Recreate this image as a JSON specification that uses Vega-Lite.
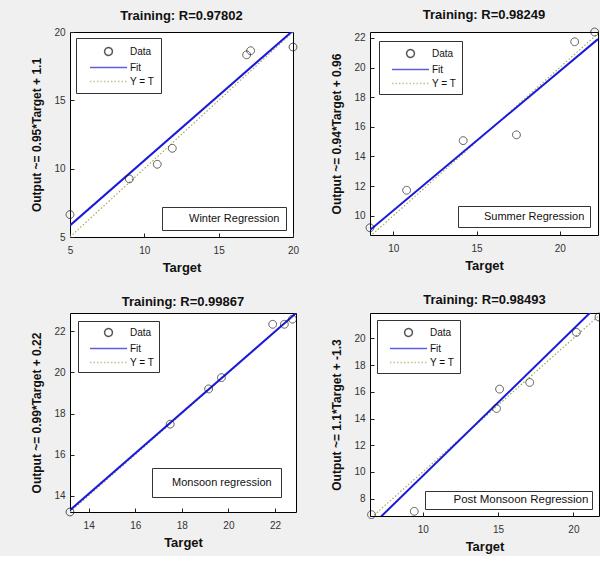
{
  "$schema": "https://vega.github.io/schema/vega-lite/v6.json",
  "background": "#f0f0f0",
  "padding": {"left": 30, "top": 8, "right": 2, "bottom": 2},
  "columns": 2,
  "spacing": {"row": 18, "column": 30},
  "config": {
    "font": "Liberation Sans",
    "view": {"fill": "white", "stroke": "black", "strokeWidth": 1},
    "axis": {"labelFont": "Liberation Sans", "labelFontSize": 10, "labelColor": "#333333", "titleFont": "Liberation Sans", "titleFontWeight": "bold", "titleColor": "#111111", "grid": false, "domain": false, "tickColor": "#222222", "tickSize": -4, "tickCount": 30, "format": "d", "labelOverlap": false, "labelFlush": false},
    "axisX": {"titleFontSize": 13, "titlePadding": 6, "labelPadding": 12},
    "axisY": {"titleFontSize": 12, "titlePadding": 10, "labelPadding": 9},
    "title": {"font": "Liberation Sans", "fontSize": 13, "fontWeight": "bold", "color": "#111111", "offset": 4},
    "legend": {"labelFont": "Liberation Sans", "labelColor": "#111111"}
  },
  "resolve": {
    "scale": {"x": "independent", "y": "independent", "color": "independent", "shape": "independent", "strokeDash": "independent", "opacity": "independent"},
    "legend": {"color": "independent", "shape": "independent", "strokeDash": "independent", "opacity": "independent"}
  },
  "concat": [
    {
      "title": "Training: R=0.97802",
      "width": 223, "height": 205,
      "layer": [
        {"data": {"values": [{"t": 5, "o": 5}, {"t": 20, "o": 20}]},
         "mark": {"type": "line", "color": "#a8a860", "strokeDash": [1.5, 2], "strokeWidth": 1.2, "clip": true},
         "encoding": {"x": {"field": "t", "type": "quantitative", "scale": {"domain": [5, 20], "nice": false, "zero": false}, "axis": {"values": [5, 10, 15, 20], "title": "Target"}},
                      "y": {"field": "o", "type": "quantitative", "scale": {"domain": [5, 20], "nice": false, "zero": false}, "axis": {"values": [5, 10, 15, 20], "title": "Output ~= 0.95*Target + 1.1"}}}},
        {"data": {"values": [{"t": 5, "o": 5.85, "note": "Winter Regression"}, {"t": 20, "o": 20.1, "note": "Winter Regression"}]},
         "mark": {"type": "line", "color": "#1a1adb", "strokeWidth": 2, "clip": true},
         "encoding": {"x": {"field": "t", "type": "quantitative"}, "y": {"field": "o", "type": "quantitative"},
                      "opacity": {"field": "note", "type": "nominal", "scale": {"range": [1]}, "legend": {"title": null, "orient": "bottom-right", "offset": 7, "strokeColor": "#333333", "fillColor": "white", "padding": 6, "symbolSize": 0, "symbolStrokeWidth": 0, "labelFontSize": 11, "labelOffset": 10}}}},
        {"data": {"values": [{"t": 5.0, "o": 6.64, "series": "Data"}, {"t": 8.99, "o": 9.25, "series": "Data"}, {"t": 10.87, "o": 10.32, "series": "Data"}, {"t": 11.88, "o": 11.49, "series": "Data"}, {"t": 16.88, "o": 18.33, "series": "Data"}, {"t": 17.15, "o": 18.63, "series": "Data"}, {"t": 20.0, "o": 18.9, "series": "Data"}]},
         "mark": {"type": "point", "filled": false, "size": 169, "strokeWidth": 1, "clip": false},
         "encoding": {"x": {"field": "t", "type": "quantitative"}, "y": {"field": "o", "type": "quantitative"},
                      "shape": {"field": "series", "type": "nominal", "scale": {"domain": ["Data", "Fit", "Y = T"], "range": ["M-0.6,0A0.6,0.6,0,1,1,0.6,0A0.6,0.6,0,1,1,-0.6,0Z", "M-2.85,0L2.85,0", "M-2.85,0L2.85,0"]}, "legend": {"title": null, "orient": "top-left", "offset": 6, "strokeColor": "#333333", "fillColor": "white", "padding": 6, "symbolSize": 169, "symbolOffset": 19, "labelFontSize": 10, "rowPadding": 1, "labelOffset": 14}},
                      "color": {"field": "series", "type": "nominal", "scale": {"domain": ["Data", "Fit", "Y = T"], "range": ["#111111", "#1a1adb", "#a8a860"]}, "legend": {"title": null, "orient": "top-left", "offset": 6, "strokeColor": "#333333", "fillColor": "white", "padding": 6, "symbolSize": 169, "symbolOffset": 19, "labelFontSize": 10, "rowPadding": 1, "labelOffset": 14}},
                      "strokeDash": {"field": "series", "type": "nominal", "scale": {"domain": ["Data", "Fit", "Y = T"], "range": [[1, 0], [1, 0], [1.5, 2]]}, "legend": {"title": null, "orient": "top-left", "offset": 6, "strokeColor": "#333333", "fillColor": "white", "padding": 6, "symbolSize": 169, "symbolOffset": 19, "labelFontSize": 10, "rowPadding": 1, "labelOffset": 14}}}}
      ]
    },
    {
      "title": "Training: R=0.98249",
      "width": 228, "height": 203,
      "layer": [
        {"data": {"values": [{"t": 8.6, "o": 8.6}, {"t": 22.3, "o": 22.3}]},
         "mark": {"type": "line", "color": "#a8a860", "strokeDash": [1.5, 2], "strokeWidth": 1.2, "clip": true},
         "encoding": {"x": {"field": "t", "type": "quantitative", "scale": {"domain": [8.6, 22.3], "nice": false, "zero": false}, "axis": {"values": [10, 15, 20], "title": "Target"}},
                      "y": {"field": "o", "type": "quantitative", "scale": {"domain": [8.7, 22.4], "nice": false, "zero": false}, "axis": {"values": [10, 12, 14, 16, 18, 20, 22], "title": "Output ~= 0.94*Target + 0.96"}}}},
        {"data": {"values": [{"t": 8.6, "o": 9.04, "note": "Summer Regression"}, {"t": 22.3, "o": 21.92, "note": "Summer Regression"}]},
         "mark": {"type": "line", "color": "#1a1adb", "strokeWidth": 2, "clip": true},
         "encoding": {"x": {"field": "t", "type": "quantitative"}, "y": {"field": "o", "type": "quantitative"},
                      "opacity": {"field": "note", "type": "nominal", "scale": {"range": [1]}, "legend": {"title": null, "orient": "bottom-right", "offset": 8, "strokeColor": "#333333", "fillColor": "white", "padding": 5, "symbolSize": 0, "symbolStrokeWidth": 0, "labelFontSize": 11, "labelOffset": 10}}}},
        {"data": {"values": [{"t": 8.6, "o": 9.19, "series": "Data"}, {"t": 10.8, "o": 11.72, "series": "Data"}, {"t": 14.2, "o": 15.07, "series": "Data"}, {"t": 17.4, "o": 15.46, "series": "Data"}, {"t": 20.9, "o": 21.74, "series": "Data"}, {"t": 22.1, "o": 22.4, "series": "Data"}]},
         "mark": {"type": "point", "filled": false, "size": 169, "strokeWidth": 1, "clip": false},
         "encoding": {"x": {"field": "t", "type": "quantitative"}, "y": {"field": "o", "type": "quantitative"},
                      "shape": {"field": "series", "type": "nominal", "scale": {"domain": ["Data", "Fit", "Y = T"], "range": ["M-0.6,0A0.6,0.6,0,1,1,0.6,0A0.6,0.6,0,1,1,-0.6,0Z", "M-2.85,0L2.85,0", "M-2.85,0L2.85,0"]}, "legend": {"title": null, "orient": "top-left", "offset": 9, "strokeColor": "#333333", "fillColor": "white", "padding": 5, "symbolSize": 169, "symbolOffset": 19, "labelFontSize": 10, "rowPadding": 1, "labelOffset": 14}},
                      "color": {"field": "series", "type": "nominal", "scale": {"domain": ["Data", "Fit", "Y = T"], "range": ["#111111", "#1a1adb", "#a8a860"]}, "legend": {"title": null, "orient": "top-left", "offset": 9, "strokeColor": "#333333", "fillColor": "white", "padding": 5, "symbolSize": 169, "symbolOffset": 19, "labelFontSize": 10, "rowPadding": 1, "labelOffset": 14}},
                      "strokeDash": {"field": "series", "type": "nominal", "scale": {"domain": ["Data", "Fit", "Y = T"], "range": [[1, 0], [1, 0], [1.5, 2]]}, "legend": {"title": null, "orient": "top-left", "offset": 9, "strokeColor": "#333333", "fillColor": "white", "padding": 5, "symbolSize": 169, "symbolOffset": 19, "labelFontSize": 10, "rowPadding": 1, "labelOffset": 14}}}}
      ]
    },
    {
      "title": "Training: R=0.99867",
      "width": 226, "height": 199,
      "layer": [
        {"data": {"values": [{"t": 13.2, "o": 13.2}, {"t": 22.9, "o": 22.9}]},
         "mark": {"type": "line", "color": "#a8a860", "strokeDash": [1.5, 2], "strokeWidth": 1.2, "clip": true},
         "encoding": {"x": {"field": "t", "type": "quantitative", "scale": {"domain": [13.2, 22.9], "nice": false, "zero": false}, "axis": {"values": [14, 16, 18, 20, 22], "title": "Target"}},
                      "y": {"field": "o", "type": "quantitative", "scale": {"domain": [13.2, 22.9], "nice": false, "zero": false}, "axis": {"values": [14, 16, 18, 20, 22], "title": "Output ~= 0.99*Target + 0.22"}}}},
        {"data": {"values": [{"t": 13.2, "o": 13.29, "note": "Monsoon regression"}, {"t": 22.9, "o": 22.89, "note": "Monsoon regression"}]},
         "mark": {"type": "line", "color": "#1a1adb", "strokeWidth": 2, "clip": true},
         "encoding": {"x": {"field": "t", "type": "quantitative"}, "y": {"field": "o", "type": "quantitative"},
                      "opacity": {"field": "note", "type": "nominal", "scale": {"range": [1]}, "legend": {"title": null, "orient": "bottom-right", "offset": 15, "strokeColor": "#333333", "fillColor": "white", "padding": 9, "symbolSize": 0, "symbolStrokeWidth": 0, "labelFontSize": 11, "labelOffset": 0}}}},
        {"data": {"values": [{"t": 13.2, "o": 13.2, "series": "Data"}, {"t": 17.5, "o": 17.48, "series": "Data"}, {"t": 19.15, "o": 19.2, "series": "Data"}, {"t": 19.7, "o": 19.75, "series": "Data"}, {"t": 21.9, "o": 22.35, "series": "Data"}, {"t": 22.4, "o": 22.35, "series": "Data"}, {"t": 22.75, "o": 22.6, "series": "Data"}]},
         "mark": {"type": "point", "filled": false, "size": 169, "strokeWidth": 1, "clip": false},
         "encoding": {"x": {"field": "t", "type": "quantitative"}, "y": {"field": "o", "type": "quantitative"},
                      "shape": {"field": "series", "type": "nominal", "scale": {"domain": ["Data", "Fit", "Y = T"], "range": ["M-0.6,0A0.6,0.6,0,1,1,0.6,0A0.6,0.6,0,1,1,-0.6,0Z", "M-2.85,0L2.85,0", "M-2.85,0L2.85,0"]}, "legend": {"title": null, "orient": "top-left", "offset": 8, "strokeColor": "#333333", "fillColor": "white", "padding": 4, "symbolSize": 169, "symbolOffset": 19, "labelFontSize": 10, "rowPadding": 1, "labelOffset": 14}},
                      "color": {"field": "series", "type": "nominal", "scale": {"domain": ["Data", "Fit", "Y = T"], "range": ["#111111", "#1a1adb", "#a8a860"]}, "legend": {"title": null, "orient": "top-left", "offset": 8, "strokeColor": "#333333", "fillColor": "white", "padding": 4, "symbolSize": 169, "symbolOffset": 19, "labelFontSize": 10, "rowPadding": 1, "labelOffset": 14}},
                      "strokeDash": {"field": "series", "type": "nominal", "scale": {"domain": ["Data", "Fit", "Y = T"], "range": [[1, 0], [1, 0], [1.5, 2]]}, "legend": {"title": null, "orient": "top-left", "offset": 8, "strokeColor": "#333333", "fillColor": "white", "padding": 4, "symbolSize": 169, "symbolOffset": 19, "labelFontSize": 10, "rowPadding": 1, "labelOffset": 14}}}}
      ]
    },
    {
      "title": "Training: R=0.98493",
      "width": 229, "height": 203,
      "layer": [
        {"data": {"values": [{"t": 6.6, "o": 6.6}, {"t": 21.8, "o": 21.8}]},
         "mark": {"type": "line", "color": "#a8a860", "strokeDash": [1.5, 2], "strokeWidth": 1.2, "clip": true},
         "encoding": {"x": {"field": "t", "type": "quantitative", "scale": {"domain": [6.5, 21.7], "nice": false, "zero": false}, "axis": {"values": [10, 15, 20], "title": "Target"}},
                      "y": {"field": "o", "type": "quantitative", "scale": {"domain": [6.7, 21.9], "nice": false, "zero": false}, "axis": {"values": [8, 10, 12, 14, 16, 18, 20], "title": "Output ~= 1.1*Target + -1.3"}}}},
        {"data": {"values": [{"t": 6.5, "o": 5.85, "note": "Post Monsoon Regression"}, {"t": 21.7, "o": 22.57, "note": "Post Monsoon Regression"}]},
         "mark": {"type": "line", "color": "#1a1adb", "strokeWidth": 2, "clip": true},
         "encoding": {"x": {"field": "t", "type": "quantitative"}, "y": {"field": "o", "type": "quantitative"},
                      "opacity": {"field": "note", "type": "nominal", "scale": {"range": [1]}, "legend": {"title": null, "orient": "bottom-right", "offset": 7, "strokeColor": "#333333", "fillColor": "white", "padding": 3, "symbolSize": 0, "symbolStrokeWidth": 0, "labelFontSize": 11.5, "labelOffset": 14}}}},
        {"data": {"values": [{"t": 6.6, "o": 6.8, "series": "Data"}, {"t": 9.44, "o": 7.05, "series": "Data"}, {"t": 14.9, "o": 14.75, "series": "Data"}, {"t": 15.1, "o": 16.2, "series": "Data"}, {"t": 17.1, "o": 16.7, "series": "Data"}, {"t": 20.2, "o": 20.45, "series": "Data"}, {"t": 21.7, "o": 21.6, "series": "Data"}]},
         "mark": {"type": "point", "filled": false, "size": 169, "strokeWidth": 1, "clip": false},
         "encoding": {"x": {"field": "t", "type": "quantitative"}, "y": {"field": "o", "type": "quantitative"},
                      "shape": {"field": "series", "type": "nominal", "scale": {"domain": ["Data", "Fit", "Y = T"], "range": ["M-0.6,0A0.6,0.6,0,1,1,0.6,0A0.6,0.6,0,1,1,-0.6,0Z", "M-2.85,0L2.85,0", "M-2.85,0L2.85,0"]}, "legend": {"title": null, "orient": "top-left", "offset": 7, "strokeColor": "#333333", "fillColor": "white", "padding": 5, "symbolSize": 169, "symbolOffset": 19, "labelFontSize": 10, "rowPadding": 1, "labelOffset": 14}},
                      "color": {"field": "series", "type": "nominal", "scale": {"domain": ["Data", "Fit", "Y = T"], "range": ["#111111", "#1a1adb", "#a8a860"]}, "legend": {"title": null, "orient": "top-left", "offset": 7, "strokeColor": "#333333", "fillColor": "white", "padding": 5, "symbolSize": 169, "symbolOffset": 19, "labelFontSize": 10, "rowPadding": 1, "labelOffset": 14}},
                      "strokeDash": {"field": "series", "type": "nominal", "scale": {"domain": ["Data", "Fit", "Y = T"], "range": [[1, 0], [1, 0], [1.5, 2]]}, "legend": {"title": null, "orient": "top-left", "offset": 7, "strokeColor": "#333333", "fillColor": "white", "padding": 5, "symbolSize": 169, "symbolOffset": 19, "labelFontSize": 10, "rowPadding": 1, "labelOffset": 14}}}}
      ]
    }
  ]
}
